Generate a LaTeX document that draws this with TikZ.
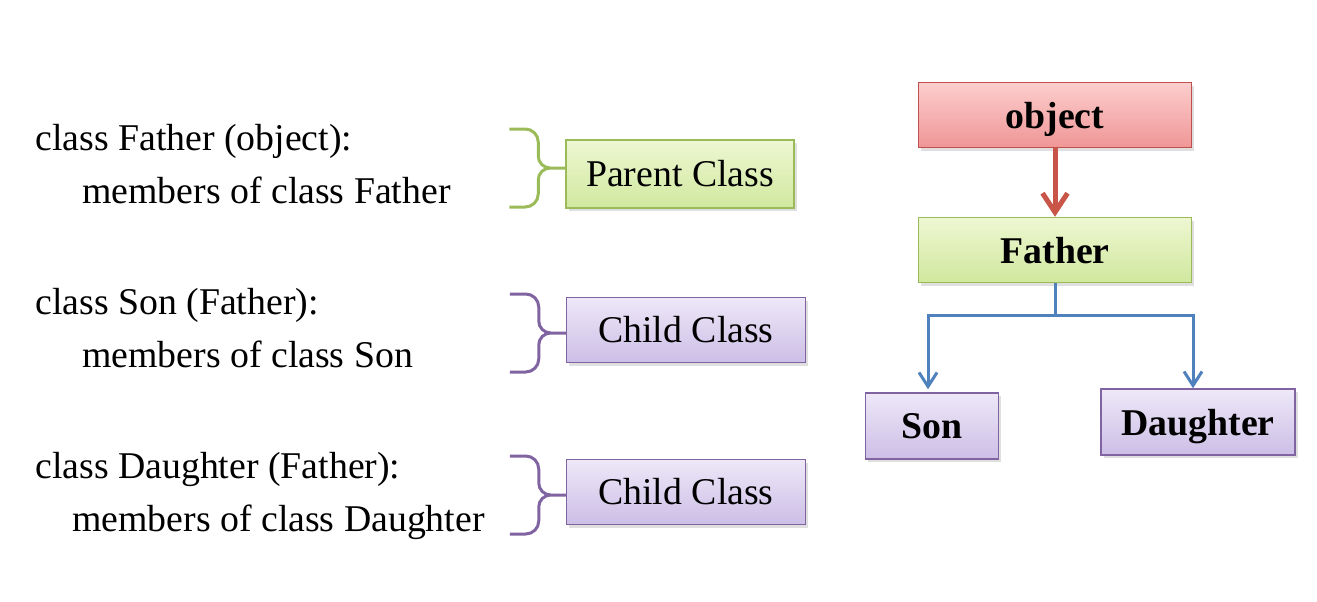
\documentclass[tikz,border=0pt]{standalone}
\usepackage{fontspec}
\setmainfont{Liberation Serif}
\usepackage{tikz}
\usetikzlibrary{arrows.meta, calc, positioning, shadows}

\definecolor{grnline}{RGB}{155,187,89}
\definecolor{grntop}{RGB}{238,247,210}
\definecolor{grnbot}{RGB}{208,232,158}
\definecolor{purline}{RGB}{128,100,162}
\definecolor{purtop}{RGB}{238,232,248}
\definecolor{purbot}{RGB}{204,190,230}
\definecolor{redline}{RGB}{192,80,77}
\definecolor{redtop}{RGB}{252,205,205}
\definecolor{redbot}{RGB}{240,150,150}
\definecolor{redarrow}{RGB}{200,85,72}
\definecolor{bluearrow}{RGB}{79,129,189}

% brace in front of a box: #1 colour, #2 box name, #3 vertical offset of the tip
\newcommand{\classbrace}[3]{%
  \draw[#1, line width=0.6mm, line join=round]
    ([shift={(-56,#3-39)}]#2.west) -- ([shift={(-40,#3-39)}]#2.west)
      to[out=0,in=90] ([shift={(-27,#3-26)}]#2.west)
      -- ([shift={(-27,#3-12)}]#2.west)
      to[out=-90,in=180] ([shift={(-15,#3)}]#2.west) -- ([shift={(0,#3)}]#2.west)
    ([shift={(-15,#3)}]#2.west)
      to[out=180,in=90] ([shift={(-27,#3+12)}]#2.west)
      -- ([shift={(-27,#3+26)}]#2.west)
      to[out=-90,in=0] ([shift={(-40,#3+39)}]#2.west)
      -- ([shift={(-56,#3+39)}]#2.west);}

\begin{document}
\begin{tikzpicture}[x=0.2mm, y=-0.2mm,
    every node/.style={font=\fontsize{21.5}{26}\selectfont},
    code/.style={anchor=base west, inner sep=0pt},
    box/.style={draw, line width=0.3mm, inner sep=0pt,
      drop shadow={opacity=0.25, shadow xshift=0.5mm, shadow yshift=-0.6mm}},
    grnbox/.style={box, draw=grnline, top color=grntop, bottom color=grnbot},
    purbox/.style={box, draw=purline, top color=purtop, bottom color=purbot},
    redbox/.style={box, draw=redline, top color=redtop, bottom color=redbot},
    tree/.style={font=\fontsize{21.5}{26}\selectfont\bfseries, text depth=0pt},
    redarr/.style={redarrow, line width=1mm,
      -{Straight Barb[length=3.8mm, width=5mm, line width=1mm]}},
    bluearr/.style={bluearrow, line width=0.6mm,
      -{Straight Barb[length=2.8mm, width=3.6mm, line width=0.6mm]}}]
  \useasboundingbox (0,0) rectangle (1317,601);

  % class definitions
  \node[code] (cfather) at (35,150) {class Father (object):};
  \node[code] (mfather) at (82,203) {members of class Father};
  \node[code] (cson) at (35,314) {class Son (Father):};
  \node[code] (mson) at (82,367) {members of class Son};
  \node[code] (cdaughter) at (35,478) {class Daughter (Father):};
  \node[code] (mdaughter) at (72,531) {members of class Daughter};

  % labels
  \node[grnbox, minimum width=45.6mm, minimum height=13.6mm] (parent) at (680,174) {Parent Class};
  \node[purbox, minimum width=47.8mm, minimum height=13mm] (child1) at (686,330) {Child Class};
  \node[purbox, minimum width=47.8mm, minimum height=13mm] (child2) at (686,492) {Child Class};

  \classbrace{grnline}{parent}{-6}
  \classbrace{purline}{child1}{3}
  \classbrace{purline}{child2}{3}

  % tree
  \node[redbox, tree, minimum width=54.6mm, minimum height=13mm] (object) at (1055,115) {object};
  \node[grnbox, tree, minimum width=54.6mm, minimum height=13mm] (father) at (1055,250) {Father};
  \node[purbox, tree, minimum width=26.6mm, minimum height=13.2mm] (son) at (932,426) {Son};
  \node[purbox, tree, minimum width=38.8mm, minimum height=13.2mm] (daughter) at (1198,422) {Daughter};

  \draw[redarr] (object) -- (father);
  \draw[bluearr] (father.south) -- ++(0,32) -| ([shift={(-4,-3)}]son.north);
  \draw[bluearr] (father.south) -- ++(0,32) -| ([shift={(-5,0)}]daughter.north);
\end{tikzpicture}
\end{document}
